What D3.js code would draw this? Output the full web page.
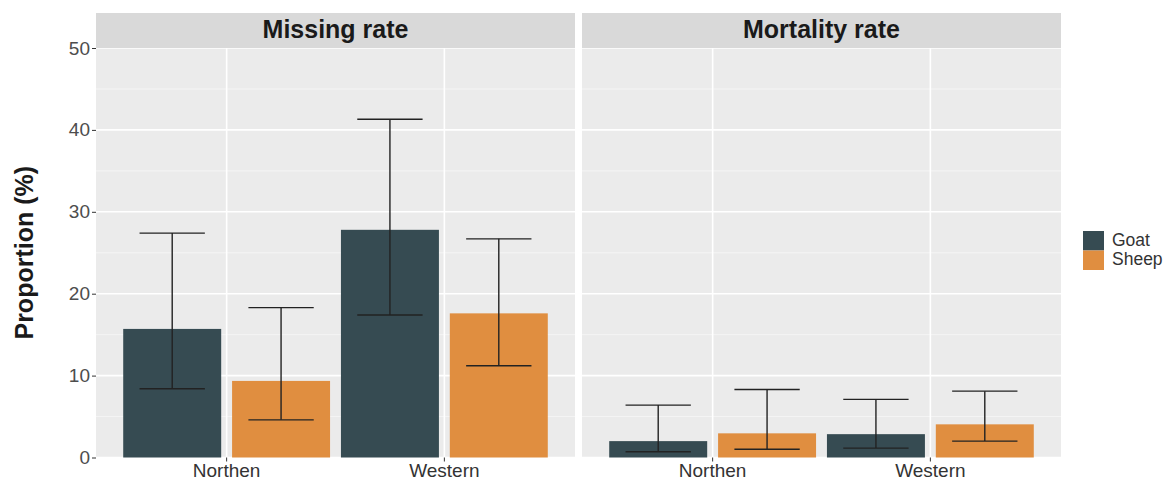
<!DOCTYPE html>
<html>
<head>
<meta charset="utf-8">
<script src="https://cdn.jsdelivr.net/npm/d3@7/dist/d3.min.js"></script>
<style>
  html, body { margin: 0; padding: 0; background: #ffffff; }
  svg { display: block; font-family: "Liberation Sans", Arial, sans-serif; }
</style>
</head>
<body>
<svg id="chart" width="1165" height="479"></svg>
<script>
// Facets, regions and species
const panels = ["Missing rate", "Mortality rate"];
const regions = ["Northen", "Western"];
const species = ["Goat", "Sheep"];
const speciesColors = ["#364b52", "#e08e40"];

// Means and confidence limits (%), per facet, ordered region × species
const missingMean  = [15.7, 9.35, 27.8, 17.6];
const missingLow   = [8.4, 4.6, 17.4, 11.2];
const missingHigh  = [27.4, 18.3, 41.3, 26.7];
const mortalityMean = [2.0, 2.95, 2.85, 4.05];
const mortalityLow  = [0.7, 1.0, 1.15, 2.0];
const mortalityHigh = [6.4, 8.3, 7.1, 8.1];

const yTicks = [0, 10, 20, 30, 40, 50];
const yMinor = [5, 15, 25, 35, 45];

const panelData = [
  { mean: missingMean, low: missingLow, high: missingHigh },
  { mean: mortalityMean, low: mortalityLow, high: mortalityHigh }
];

const svg = d3.select("#chart");

const panelLeft = [96, 582];
const panelW = 479;
const stripTop = 13, stripH = 35;
const plotTop = stripTop + stripH;
const plotBottom = 457.5;

const y = d3.scaleLinear().domain([0, 50]).range([plotBottom, plotTop]);

// Discrete axis with ggplot-style 0.6 expansion on both sides
const xUnit = d3.scaleLinear().domain([0.4, 2.6]);
const dodge = 0.5, barW = 0.45, capW = 0.15;

panels.forEach((name, p) => {
  const x0 = panelLeft[p];
  xUnit.range([x0, x0 + panelW]);
  const g = svg.append("g");

  // panel background
  g.append("rect").attr("x", x0).attr("y", plotTop)
    .attr("width", panelW).attr("height", plotBottom - plotTop)
    .attr("fill", "#ebebeb");

  // minor horizontal gridlines
  g.selectAll(".minor").data(yMinor).join("line")
    .attr("x1", x0).attr("x2", x0 + panelW)
    .attr("y1", d => y(d)).attr("y2", d => y(d))
    .attr("stroke", "#f5f5f5").attr("stroke-width", 1);

  // major horizontal gridlines
  g.selectAll(".major").data(yTicks).join("line")
    .attr("x1", x0).attr("x2", x0 + panelW)
    .attr("y1", d => y(d)).attr("y2", d => y(d))
    .attr("stroke", "#ffffff").attr("stroke-width", 1.6);

  // vertical gridlines at categories
  g.selectAll(".vgrid").data(regions).join("line")
    .attr("x1", (d, i) => xUnit(i + 1)).attr("x2", (d, i) => xUnit(i + 1))
    .attr("y1", plotTop).attr("y2", plotBottom)
    .attr("stroke", "#ffffff").attr("stroke-width", 1.6);

  // strip
  g.append("rect").attr("x", x0).attr("y", stripTop)
    .attr("width", panelW).attr("height", stripH)
    .attr("fill", "#d9d9d9");
  g.append("text").attr("x", x0 + panelW / 2).attr("y", stripTop + stripH / 2 + 1)
    .attr("text-anchor", "middle").attr("dominant-baseline", "middle")
    .attr("font-size", 25).attr("font-weight", "bold").attr("fill", "#1a1a1a")
    .text(name);

  const d = panelData[p];
  const rows = [];
  regions.forEach((r, ri) => species.forEach((s, si) => {
    const k = ri * species.length + si;
    rows.push({ pos: ri + 1 + (si - 0.5) * dodge, si,
      mean: d.mean[k], low: d.low[k], high: d.high[k] });
  }));

  // bars
  g.selectAll(".bar").data(rows).join("rect")
    .attr("x", r => xUnit(r.pos - barW / 2))
    .attr("width", r => xUnit(r.pos + barW / 2) - xUnit(r.pos - barW / 2))
    .attr("y", r => y(r.mean))
    .attr("height", r => y(0) - y(r.mean))
    .attr("fill", r => speciesColors[r.si]);

  // error bars
  const eb = g.selectAll(".eb").data(rows).join("g")
    .attr("stroke", "#222222").attr("stroke-width", 1.4).attr("fill", "none");
  eb.append("line")
    .attr("x1", r => xUnit(r.pos)).attr("x2", r => xUnit(r.pos))
    .attr("y1", r => y(r.low)).attr("y2", r => y(r.high));
  eb.append("line")
    .attr("x1", r => xUnit(r.pos - capW)).attr("x2", r => xUnit(r.pos + capW))
    .attr("y1", r => y(r.high)).attr("y2", r => y(r.high));
  eb.append("line")
    .attr("x1", r => xUnit(r.pos - capW)).attr("x2", r => xUnit(r.pos + capW))
    .attr("y1", r => y(r.low)).attr("y2", r => y(r.low));

  // x axis
  const xAxis = g.append("g").attr("transform", `translate(0,${plotBottom})`);
  regions.forEach((r, i) => {
    const cx = xUnit(i + 1);
    xAxis.append("line").attr("x1", cx).attr("x2", cx).attr("y1", 0).attr("y2", 4)
      .attr("stroke", "#333").attr("stroke-width", 1);
    xAxis.append("text").attr("x", cx).attr("y", 19)
      .attr("text-anchor", "middle").attr("font-size", 19).attr("fill", "#333")
      .text(r);
  });
});

// y axis on the left panel
const yAxis = d3.axisLeft(y).tickValues(yTicks).tickSize(4).tickPadding(2);
const yg = svg.append("g").attr("transform", `translate(${panelLeft[0]},0)`).call(yAxis);
yg.select(".domain").remove();
yg.selectAll(".tick line").attr("stroke", "#333");
yg.selectAll(".tick text").attr("font-size", 19).attr("fill", "#4d4d4d")
  .attr("font-family", "Liberation Sans, Arial, sans-serif");

// y title
svg.append("text")
  .attr("transform", `translate(33,${(plotTop + plotBottom) / 2}) rotate(-90)`)
  .attr("text-anchor", "middle").attr("font-size", 25).attr("font-weight", "bold")
  .attr("fill", "#1a1a1a").text("Proportion (%)");

// legend
const lg = svg.append("g").attr("transform", "translate(1083,231)");
species.forEach((s, i) => {
  lg.append("rect").attr("x", 0).attr("y", i * 19.5).attr("width", 21).attr("height", 19.5)
    .attr("fill", speciesColors[i]);
  lg.append("text").attr("x", 29).attr("y", i * 19.5 + 10).attr("dominant-baseline", "middle")
    .attr("font-size", 17.5).attr("fill", "#333").text(s);
});
</script>
</body>
</html>
